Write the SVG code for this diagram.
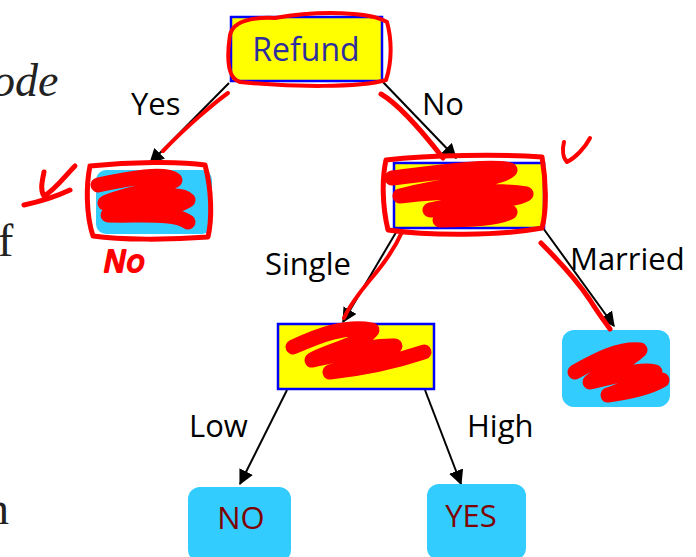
<svg xmlns="http://www.w3.org/2000/svg" width="696" height="557" viewBox="0 0 696 557">
  <defs>
    <marker id="arrowHead" viewBox="0 0 12 12" refX="11" refY="6" markerWidth="15" markerHeight="15" markerUnits="userSpaceOnUse" orient="auto">
      <path d="M0,0 L12,6 L0,12 z" fill="#000"/>
    </marker>
  </defs>
  <style>
    .edge { stroke: #000; stroke-width: 2; fill: none; marker-end: url(#arrowHead); }
    .label { font-family: "Open Sans", "Liberation Sans", sans-serif; font-size: 31px; fill: #000; }
    .test { fill: #ffff00; stroke: #0000ff; stroke-width: 2.5; }
    .leaf { fill: #33ccff; }
    .testText { font-family: "Open Sans", "Liberation Sans", sans-serif; font-size: 32px; fill: #2e2e9e; text-anchor: middle; }
    .leafText { font-family: "Open Sans", "Liberation Sans", sans-serif; font-size: 31px; fill: #7f0000; text-anchor: middle; }
    .math { font-family: "Liberation Serif", "DejaVu Serif", serif; font-size: 46px; fill: #222; }
    .ink { fill: none; stroke: #ff0000; stroke-linecap: round; stroke-linejoin: round; }
    .inkText { font-family: "DejaVu Sans", sans-serif; font-style: italic; font-size: 30px; fill: #ff0000; stroke: #ff0000; stroke-width: 2; stroke-linejoin: round; }
  </style>

  <!-- surrounding slide text -->
  <text class="math" x="-8" y="96" font-style="italic">ode</text>
  <text class="math" x="-2" y="256">f</text>
  <text class="math" x="-14" y="524">n</text>

  <!-- connectors -->
  <g id="edges">
    <line class="edge" x1="229" y1="83" x2="150" y2="163"/>
    <line class="edge" x1="382" y1="81" x2="456" y2="158"/>
    <line class="edge" x1="398" y1="229" x2="343" y2="322"/>
    <line class="edge" x1="543" y1="228" x2="614" y2="326"/>
    <line class="edge" x1="287" y1="390" x2="240" y2="484"/>
    <line class="edge" x1="425" y1="390" x2="461" y2="484"/>
  </g>

  <!-- edge labels -->
  <g id="edge-labels">
    <text class="label" x="131" y="115">Yes</text>
    <text class="label" x="422" y="115">No</text>
    <text class="label" x="265" y="275">Single</text>
    <text class="label" x="570" y="270">Married</text>
    <text class="label" x="189" y="437">Low</text>
    <text class="label" x="467" y="437">High</text>
  </g>

  <g id="node-refund">
    <rect class="test" x="231" y="17" width="151" height="64"/>
    <text class="testText" x="306" y="61">Refund</text>
  </g>

  <g id="node-leaf-refund-yes">
    <rect class="leaf" x="96" y="170" width="116" height="64" rx="10"/>
  </g>

  <g id="node-marital">
    <rect class="test" x="394" y="163" width="150" height="65"/>
  </g>

  <g id="node-income">
    <rect class="test" x="278" y="324" width="156" height="65"/>
  </g>

  <g id="node-leaf-married">
    <rect class="leaf" x="562" y="330" width="108" height="77" rx="12"/>
  </g>

  <g id="node-leaf-low">
    <rect class="leaf" x="188" y="487" width="103" height="75" rx="12"/>
    <text class="leafText" x="241" y="529">NO</text>
  </g>

  <g id="node-leaf-high">
    <rect class="leaf" x="427" y="484" width="99" height="76" rx="12"/>
    <text class="leafText" x="471" y="527">YES</text>
  </g>

  <!-- red pen annotations -->
  <g id="ink">
    <!-- loop round Refund -->
    <path class="ink" stroke-width="4" d="M275,18 C320,10 370,12 387,22 C392,40 392,62 386,80 C360,88 290,87 240,82 C226,78 227,55 230,35 C233,22 250,17 275,18"/>
    <!-- trace along the Yes branch -->
    <path class="ink" stroke-width="4" d="M228,93 C214,103 185,128 163,151"/>
    <!-- trace along the No branch -->
    <path class="ink" stroke-width="5" d="M381,94 C400,105 425,135 443,158"/>
    <!-- loop and scribble on left leaf -->
    <path class="ink" stroke-width="5" d="M90,166 C130,162 180,161 205,165 C212,190 212,220 208,237 C170,240 120,240 93,236 C86,215 86,185 90,166"/>
    <path class="ink" stroke-width="15" d="M98,185 C130,178 165,172 175,180 C160,190 120,195 105,203 C140,200 180,190 188,200 C170,212 130,214 108,215 C140,216 175,212 188,222"/>
    <!-- check mark by left leaf -->
    <path class="ink" stroke-width="5" d="M44,172 C42,182 40,190 44,196 C55,190 65,176 75,166 M24,205 C38,202 55,197 70,190"/>
    <!-- No written under left leaf -->
    <text class="inkText" x="104" y="272">No</text>
    <!-- loop and scribble on marital node -->
    <path class="ink" stroke-width="5" d="M386,160 C430,155 500,154 542,157 C546,180 547,210 542,228 C500,236 430,236 388,230 C382,205 382,178 386,160"/>
    <path class="ink" stroke-width="15" d="M392,178 C440,172 490,165 510,170 C500,180 440,185 400,196 C450,190 500,190 526,194 C510,203 470,200 430,210 C460,208 490,205 510,212 C500,218 470,220 440,220"/>
    <!-- check mark by marital node -->
    <path class="ink" stroke-width="4" d="M564,142 C562,150 563,158 567,162 C575,158 585,148 590,138"/>
    <!-- trace along Single branch -->
    <path class="ink" stroke-width="4" d="M402,232 C394,250 383,265 370,280 C360,292 350,305 344,318"/>
    <!-- trace along Married branch -->
    <path class="ink" stroke-width="5" d="M541,243 C560,262 580,285 590,300 C598,313 605,322 610,329"/>
    <!-- scribble on income node -->
    <path class="ink" stroke-width="15" d="M293,347 C320,335 345,325 372,330 C360,345 330,350 312,360 C340,355 370,345 395,346 C380,360 350,365 330,372 C370,368 400,360 424,352"/>
    <!-- scribble on married leaf -->
    <path class="ink" stroke-width="15" d="M575,372 C600,358 620,348 640,350 C625,365 600,372 590,382 C615,377 640,368 655,372 C640,385 620,390 608,395 C630,392 650,387 662,380"/>
  </g>
</svg>
